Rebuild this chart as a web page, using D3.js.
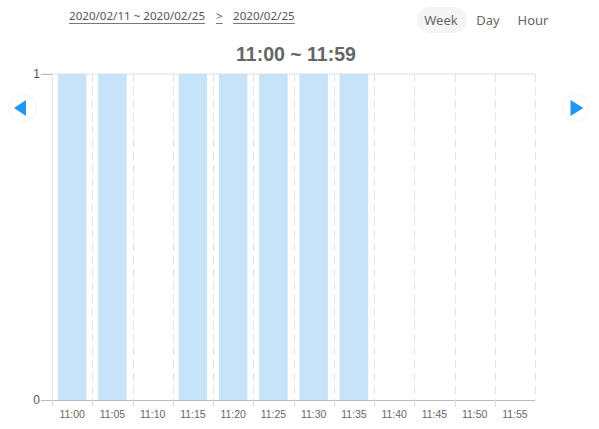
<!DOCTYPE html>
<html><head><meta charset="utf-8">
<script src="https://cdn.jsdelivr.net/npm/d3@7"></script>
<style>
body{margin:0;background:#fff;}
svg{display:block;}
</style></head>
<body>
<svg id="c" width="599" height="429"></svg>
<script>
const categories = ["11:00","11:05","11:10","11:15","11:20","11:25","11:30","11:35","11:40","11:45","11:50","11:55"];
const values = [1,1,0,1,1,1,1,1,0,0,0,0];
const yTicks = [0,1];
const rangeLabel = "2020/02/11 ~ 2020/02/25";
const dayLabel = "2020/02/25";
const title = "11:00 ~ 11:59";
const modes = ["Week","Day","Hour"];

(function(){
const svg = d3.select("#c");
const pL = 52, pR = 535, pT = 74, pB = 400;
const x = d3.scaleBand().domain(categories).range([pL, pR]).padding(0);
const y = d3.scaleLinear().domain([0,1]).range([pB, pT]);

const defs = svg.append("defs");
const f = defs.append("filter").attr("id","sh").attr("x","-50%").attr("y","-50%").attr("width","200%").attr("height","200%");
f.append("feDropShadow").attr("dx",0).attr("dy",0).attr("stdDeviation",1.5).attr("flood-color","#000").attr("flood-opacity",0.12);

// header
const hf = "'Noto Sans', 'Open Sans', sans-serif";
const h = svg.append("g").attr("font-family", hf).attr("font-size", 11.6).attr("fill","#555");
function ulText(tx, xx, yy){
  const t = h.append("text").attr("x",xx).attr("y",yy).text(tx);
  const w = t.node().getComputedTextLength();
  h.append("line").attr("x1",xx).attr("x2",xx+w).attr("y1",yy+3.5).attr("y2",yy+3.5).attr("stroke","#555").attr("stroke-width",0.8);
  return w;
}
ulText(rangeLabel, 69, 20);
ulText(">", 216, 20);
ulText(dayLabel, 233, 20);

// mode buttons
svg.append("rect").attr("x",417).attr("y",7).attr("width",50).attr("height",26).attr("rx",13).attr("fill","#f5f5f5");
const mx = [441, 488, 533];
svg.append("g").selectAll("text").data(modes).join("text")
  .attr("x",(d,i)=>mx[i]).attr("y",25).attr("text-anchor","middle")
  .attr("font-family",hf).attr("font-size",13).attr("fill","#666").text(d=>d);

// title
svg.append("text").attr("x",296).attr("y",61).attr("text-anchor","middle")
  .attr("font-family","'Liberation Sans', Arial, sans-serif").attr("font-weight","bold").attr("font-size",19.5).attr("fill","#666").text(title);

// grid
svg.append("line").attr("x1",42).attr("x2",pR).attr("y1",y(1)).attr("y2",y(1)).attr("stroke","#eaeaea").attr("stroke-width",1.5);
svg.append("line").attr("x1",pL+0.5).attr("x2",pL+0.5).attr("y1",pT).attr("y2",pB).attr("stroke","#e3e3e3");
const bounds = categories.slice(1).map(c=>x(c)).concat([pR]);
svg.append("g").selectAll("line").data(bounds).join("line")
  .attr("x1",d=>Math.round(d)+0.5).attr("x2",d=>Math.round(d)+0.5).attr("y1",pT).attr("y2",pB)
  .attr("stroke","#e3e3e3").attr("stroke-dasharray","8,5");

// bars
const bw = x.bandwidth()*0.71;
svg.append("g").selectAll("rect").data(categories.map((c,i)=>({c,v:values[i]})).filter(d=>d.v>0)).join("rect")
  .attr("x",d=>x(d.c)+(x.bandwidth()-bw)/2).attr("width",bw)
  .attr("y",d=>y(d.v)).attr("height",d=>y(0)-y(d.v)).attr("fill","#c6e3fa");

// x axis
const xa = svg.append("g").attr("transform",`translate(0,${pB})`)
  .call(d3.axisBottom(x).tickSize(0).tickPadding(11));
xa.select(".domain").remove();
xa.selectAll("text").attr("font-family","'Liberation Sans', Arial, sans-serif").attr("font-size",10.5).attr("fill","#666");
svg.append("line").attr("x1",42).attr("x2",pR).attr("y1",pB+0.5).attr("y2",pB+0.5).attr("stroke","#bbb");
svg.append("g").selectAll("line").data([pL].concat(bounds.slice(0,-1))).join("line")
  .attr("x1",d=>Math.round(d)+0.5).attr("x2",d=>Math.round(d)+0.5).attr("y1",pB).attr("y2",pB+7).attr("stroke","#ddd");

// y labels
svg.append("g").selectAll("text").data(yTicks).join("text")
  .attr("x",40).attr("y",d=>y(d)+4).attr("text-anchor","end")
  .attr("font-family","'Liberation Sans', Arial, sans-serif").attr("font-size",12).attr("fill","#555").text(d=>d);
svg.append("g").selectAll("line").data(yTicks).join("line")
  .attr("x1",41).attr("x2",pL).attr("y1",d=>Math.round(y(d))+0.5).attr("y2",d=>Math.round(y(d))+0.5).attr("stroke","#bbb");

// arrows
function arrow(cx, dir){
  svg.append("circle").attr("cx",cx).attr("cy",108).attr("r",12.5).attr("fill","#fff").attr("filter","url(#sh)");
  const p = dir<0 ? `M${cx-8.5},108 L${cx+3.5},100 L${cx+3.5},116 Z` : `M${cx+8},108 L${cx-5},100 L${cx-5},116 Z`;
  svg.append("path").attr("d",p).attr("fill","#2196f3");
}
arrow(22.5,-1);
arrow(575.5,1);
})();
</script>
</body></html>
